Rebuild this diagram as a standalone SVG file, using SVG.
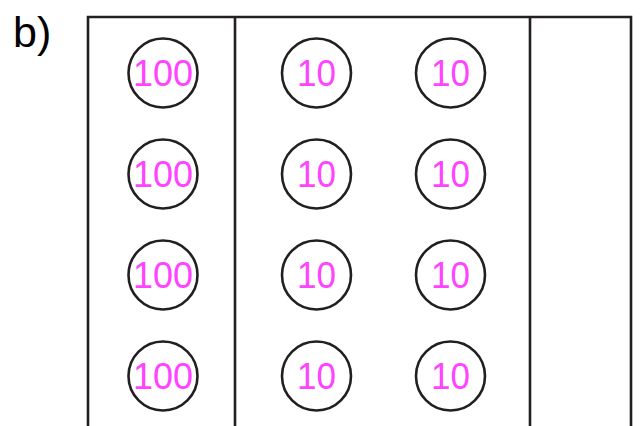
<svg xmlns="http://www.w3.org/2000/svg" width="640" height="426" viewBox="0 0 640 426">
<style>
.ln{stroke:#231f20;stroke-width:2.6;fill:none}
.c{stroke:#231f20;stroke-width:2.6;fill:none}
.t{font-family:"Liberation Sans",Arial,sans-serif;font-size:36px;fill:#ff44ff;text-anchor:middle}
.lbl{font-family:"Liberation Sans",Arial,sans-serif;font-size:43px;fill:#000}
</style>
<rect width="640" height="426" fill="#fff"/>
<text class="lbl" x="13" y="47">b)</text>
<g id="frame">
<path class="ln" d="M88,426 V17 H631 V426 M235,17 V426 M530,17 V426"/>
</g>
<g id="connectors"></g>
<g id="n1"><circle class="c" cx="163" cy="73" r="34.5"/><text class="t" x="163" y="86" textLength="60" lengthAdjust="spacingAndGlyphs">100</text></g>
<g id="n2"><circle class="c" cx="316.5" cy="73" r="34.5"/><text class="t" x="316.5" y="86" textLength="39" lengthAdjust="spacingAndGlyphs">10</text></g>
<g id="n3"><circle class="c" cx="450.5" cy="73" r="34.5"/><text class="t" x="450.5" y="86" textLength="39" lengthAdjust="spacingAndGlyphs">10</text></g>
<g id="n4"><circle class="c" cx="163" cy="174" r="34.5"/><text class="t" x="163" y="187" textLength="60" lengthAdjust="spacingAndGlyphs">100</text></g>
<g id="n5"><circle class="c" cx="316.5" cy="174" r="34.5"/><text class="t" x="316.5" y="187" textLength="39" lengthAdjust="spacingAndGlyphs">10</text></g>
<g id="n6"><circle class="c" cx="450.5" cy="174" r="34.5"/><text class="t" x="450.5" y="187" textLength="39" lengthAdjust="spacingAndGlyphs">10</text></g>
<g id="n7"><circle class="c" cx="163" cy="275" r="34.5"/><text class="t" x="163" y="288" textLength="60" lengthAdjust="spacingAndGlyphs">100</text></g>
<g id="n8"><circle class="c" cx="316.5" cy="275" r="34.5"/><text class="t" x="316.5" y="288" textLength="39" lengthAdjust="spacingAndGlyphs">10</text></g>
<g id="n9"><circle class="c" cx="450.5" cy="275" r="34.5"/><text class="t" x="450.5" y="288" textLength="39" lengthAdjust="spacingAndGlyphs">10</text></g>
<g id="n10"><circle class="c" cx="163" cy="376" r="34.5"/><text class="t" x="163" y="389" textLength="60" lengthAdjust="spacingAndGlyphs">100</text></g>
<g id="n11"><circle class="c" cx="316.5" cy="376" r="34.5"/><text class="t" x="316.5" y="389" textLength="39" lengthAdjust="spacingAndGlyphs">10</text></g>
<g id="n12"><circle class="c" cx="450.5" cy="376" r="34.5"/><text class="t" x="450.5" y="389" textLength="39" lengthAdjust="spacingAndGlyphs">10</text></g>
</svg>
